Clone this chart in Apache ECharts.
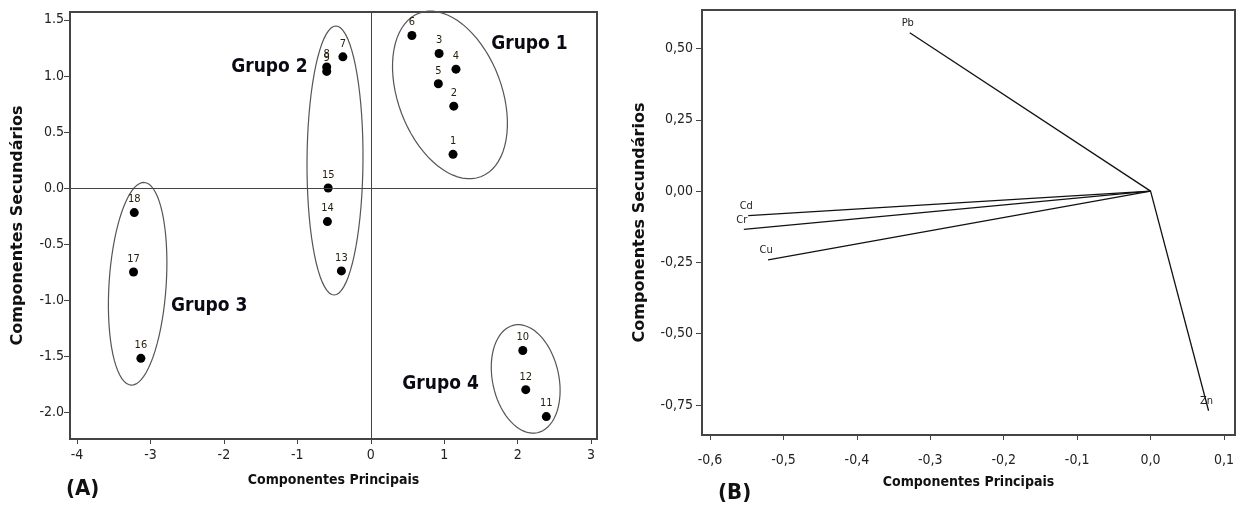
<!DOCTYPE html>
<html>
<head>
<meta charset="utf-8">
<script src="https://cdn.jsdelivr.net/npm/echarts@6/dist/echarts.min.js"></script>
<style>
  html, body { margin: 0; padding: 0; background: #fff; }
  #chart { width: 1237px; height: 506px; }
</style>
</head>
<body>
<div id="chart"></div>
<script>
// (A) scores
let sampleNames = ['1', '2', '3', '4', '5', '6', '7', '8', '9', '10', '11', '12', '13', '14', '15', '16', '17', '18']
let scoreX = [1.12, 1.13, 0.93, 1.16, 0.92, 0.56, -0.38, -0.60, -0.60, 2.07, 2.39, 2.11, -0.40, -0.59, -0.58, -3.13, -3.23, -3.22]
let scoreY = [0.30, 0.73, 1.20, 1.06, 0.93, 1.36, 1.17, 1.08, 1.04, -1.45, -2.04, -1.80, -0.74, -0.30, 0.00, -1.52, -0.75, -0.22]

// group ellipses: centre x, centre y, semi axis u (x, y), semi axis v (x, y)
let groupNames = ['Grupo 1', 'Grupo 2', 'Grupo 3', 'Grupo 4']
let ellipseCx = [1.078, -0.487, -3.174, 2.109]
let ellipseCy = [0.83, 0.245, -0.855, -1.704]
let ellipseU = [[0.42, -0.73], [0.012, 1.2], [0.09, 0.904], [-0.159, 0.48]]
let ellipseV = [[0.66, 0.163], [0.381, 0], [0.388, -0.017], [0.441, 0.063]]
let groupLabelX = [2.16, -1.38, -2.20, 0.95]
let groupLabelY = [1.28, 1.08, -1.05, -1.75]

let ticksA_x = [-4, -3, -2, -1, 0, 1, 2, 3]
let ticksA_y = [-2.0, -1.5, -1.0, -0.5, 0.0, 0.5, 1.0, 1.5]

// (B) loadings
let metals = ['Pb', 'Cd', 'Cr', 'Cu', 'Zn']
let loadX = [-0.328, -0.548, -0.554, -0.521, 0.079]
let loadY = [0.555, -0.086, -0.134, -0.241, -0.77]

let ticksB_x = [-0.6, -0.5, -0.4, -0.3, -0.2, -0.1, 0.0, 0.1]
let ticksB_y = [-0.75, -0.5, -0.25, 0.0, 0.25, 0.5]

let narrow = '"DejaVu Sans Condensed", "Liberation Sans Narrow", "DejaVu Sans", sans-serif'
let wide = '"DejaVu Sans", Verdana, sans-serif'

let myChart = echarts.init(document.getElementById('chart'))

function axisX(grid, min, max, ticks, fmt, margin, gap) {
    return {
        gridIndex: grid, type: 'value', min: min, max: max,
        name: 'Componentes Principais', nameLocation: 'middle', nameGap: gap,
        nameTextStyle: {fontFamily: narrow, fontWeight: 'bold', fontSize: 14, color: '#111'},
        axisLine: {onZero: false, lineStyle: {color: '#444', width: 2}},
        axisTick: {customValues: ticks, length: 5, lineStyle: {color: '#444', width: 1}},
        axisLabel: {customValues: ticks, formatter: fmt, fontFamily: narrow, fontSize: 14, color: '#222', margin: margin},
        splitLine: {show: false}
    }
}
function axisY(grid, min, max, ticks, fmt, gap, margin) {
    return {
        gridIndex: grid, type: 'value', min: min, max: max,
        name: 'Componentes Secundários', nameLocation: 'middle', nameGap: gap, nameRotate: 90,
        nameTextStyle: {fontFamily: wide, fontWeight: 'bold', fontSize: 16, color: '#111'},
        axisLine: {onZero: false, lineStyle: {color: '#444', width: 2}},
        axisTick: {customValues: ticks, length: 6, lineStyle: {color: '#444', width: 1}},
        axisLabel: {customValues: ticks, formatter: fmt, fontFamily: narrow, fontSize: 14, color: '#222', margin: margin},
        splitLine: {show: false}
    }
}

let scoreData = sampleNames.map((n, i) => [scoreX[i], scoreY[i], n])
let ellipseData = groupNames.map((g, i) => [ellipseCx[i], ellipseCy[i], ellipseU[i][0], ellipseU[i][1], ellipseV[i][0], ellipseV[i][1]])
let groupData = groupNames.map((g, i) => [groupLabelX[i], groupLabelY[i], g])
let loadData = metals.map((m, i) => [loadX[i], loadY[i], m])

let option = {
    animation: false,
    backgroundColor: '#fff',
    grid: [
        {left: 70, top: 12, width: 527, height: 427, show: true, borderColor: '#444', borderWidth: 2},
        {left: 702, top: 10, width: 533, height: 425, show: true, borderColor: '#444', borderWidth: 2}
    ],
    xAxis: [
        axisX(0, -4.095, 3.08, ticksA_x, v => String(v), 9, 34),
        axisX(1, -0.611, 0.115, ticksB_x, v => v.toFixed(1).replace('.', ','), 18, 40)
    ],
    yAxis: [
        axisY(0, -2.24, 1.57, ticksA_y, v => v.toFixed(1), 44, 6),
        axisY(1, -0.855, 0.635, ticksB_y, v => v.toFixed(2).replace('.', ','), 54, 9)
    ],
    graphic: [
        {type: 'text', left: 66, top: 478, style: {text: '(A)', font: 'bold 22px ' + narrow, fill: '#111'}},
        {type: 'text', left: 718, top: 482, style: {text: '(B)', font: 'bold 22px ' + narrow, fill: '#111'}}
    ],
    series: [
        {
            type: 'custom', xAxisIndex: 0, yAxisIndex: 0, silent: true,
            data: ellipseData,
            renderItem: function (params, api) {
                let pts = []
                for (let k = 0; k <= 72; k++) {
                    let t = k / 72 * Math.PI * 2
                    pts.push(api.coord([
                        api.value(0) + api.value(2) * Math.cos(t) + api.value(4) * Math.sin(t),
                        api.value(1) + api.value(3) * Math.cos(t) + api.value(5) * Math.sin(t)
                    ]))
                }
                return {type: 'polygon', shape: {points: pts}, style: {fill: 'none', stroke: '#555', lineWidth: 1.2}}
            }
        },
        {
            type: 'scatter', xAxisIndex: 0, yAxisIndex: 0,
            data: scoreData, symbol: 'circle', symbolSize: 9,
            itemStyle: {color: '#000', opacity: 1},
            label: {show: true, position: 'top', distance: 3, formatter: p => p.data[2], fontFamily: narrow, fontSize: 11, color: '#2a2010'},
            markLine: {
                silent: true, symbol: 'none', label: {show: false},
                lineStyle: {color: '#444', width: 1, type: 'solid', opacity: 1},
                data: [{xAxis: 0}, {yAxis: 0}]
            }
        },
        {
            type: 'scatter', xAxisIndex: 0, yAxisIndex: 0, silent: true,
            data: groupData, symbolSize: 0,
            itemStyle: {opacity: 1},
            label: {show: true, position: 'inside', formatter: p => p.data[2], fontFamily: narrow, fontWeight: 'bold', fontSize: 19, color: '#0a0a14'}
        },
        {
            type: 'custom', xAxisIndex: 1, yAxisIndex: 1, silent: true,
            data: loadData,
            renderItem: function (params, api) {
                let o = api.coord([0, 0])
                let e = api.coord([api.value(0), api.value(1)])
                return {
                    type: 'group',
                    children: [
                        {type: 'line', shape: {x1: o[0], y1: o[1], x2: e[0], y2: e[1]}, style: {stroke: '#111', lineWidth: 1.3}},
                        {type: 'text', x: e[0] - 2, y: e[1] - 4, style: {text: metals[params.dataIndex], font: '11px ' + narrow, fill: '#222', align: 'center', verticalAlign: 'bottom'}}
                    ]
                }
            }
        }
    ]
}
myChart.setOption(option)
</script>
</body>
</html>
